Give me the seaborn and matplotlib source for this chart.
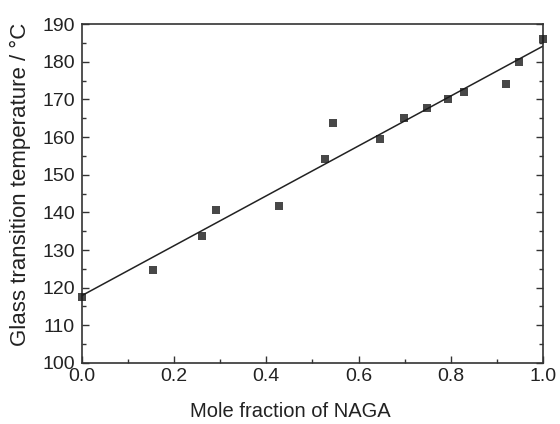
import numpy as np
import pandas as pd
import matplotlib
matplotlib.use("Agg")
import matplotlib.pyplot as plt
import seaborn as sns
from matplotlib.ticker import MultipleLocator

x_frac = [0.0, 0.154, 0.261, 0.290, 0.428, 0.527, 0.544, 0.646, 0.699, 0.748, 0.794, 0.828, 0.919, 0.948, 0.999]
tg = [117.5, 124.8, 133.6, 140.7, 141.8, 154.3, 163.8, 159.4, 165.0, 167.7, 170.0, 172.1, 174.1, 179.9, 186.1]

df = pd.DataFrame({"x": x_frac, "tg": tg})

sns.set_theme(style="ticks")
plt.rcParams["font.family"] = ["Liberation Sans", "DejaVu Sans"]

fig = plt.figure(figsize=(5.6, 4.24), dpi=100)
ax = fig.add_axes([0.146, 0.144, 0.824, 0.799])

sns.regplot(data=df, x="x", y="tg", ax=ax, ci=None, truncate=False, marker="s",
            scatter_kws=dict(s=36, color="#1a1a1a", linewidths=0, zorder=3, clip_on=False),
            line_kws=dict(color="#222222", lw=1.1))

ax.set_xlim(0, 1.0)
ax.set_ylim(100, 190)
ax.xaxis.set_major_locator(MultipleLocator(0.2))
ax.xaxis.set_minor_locator(MultipleLocator(0.1))
ax.yaxis.set_major_locator(MultipleLocator(10))
ax.yaxis.set_minor_locator(MultipleLocator(5))
ax.tick_params(axis="both", which="major", direction="in", length=5, width=1, colors="#333333",
               labelsize=14, labelcolor="#222222", right=True, top=False)
ax.tick_params(axis="both", which="minor", direction="in", length=3, width=1, colors="#333333",
               right=True, top=False)
ax.tick_params(axis="x", pad=4)
ax.tick_params(axis="y", pad=5)
for s in ax.spines.values():
    s.set_visible(True)
    s.set_color("#333333")
    s.set_linewidth(1.2)

ax.set_xlabel("Mole fraction of NAGA", fontsize=14.5, color="#222222")
ax.set_ylabel("Glass transition temperature / °C", fontsize=16, color="#222222")
ax.xaxis.set_label_coords(0.453, -0.115)
ax.yaxis.set_label_coords(-0.11, 0.528)

fig.savefig("out.png", dpi=100)
